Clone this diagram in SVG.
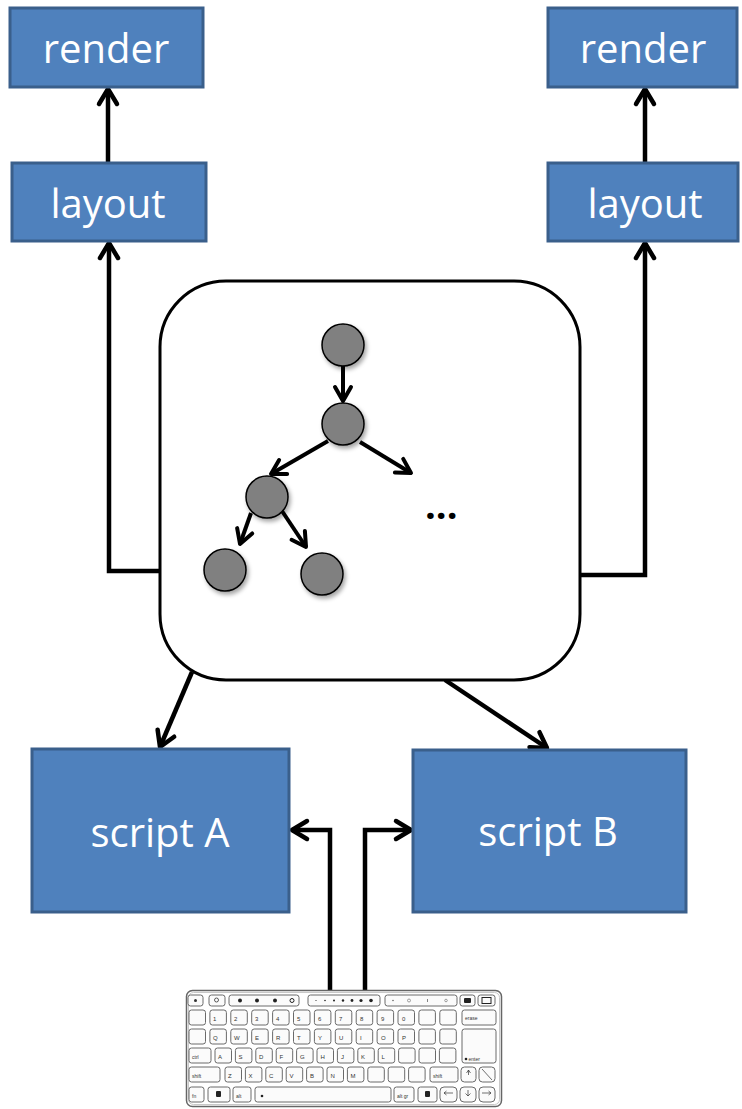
<svg xmlns="http://www.w3.org/2000/svg" width="742" height="1109" viewBox="0 0 742 1109">
  <style>
    .box { fill: #4F81BD; stroke: #3A5F8B; stroke-width: 3; }
    .lbl { font-family: "Open Sans", "Liberation Sans", sans-serif; font-size: 40px; fill: #ffffff; text-anchor: middle; }
    .wire { fill: none; stroke: #000; stroke-width: 4.5; stroke-linejoin: miter; }
    .twire { fill: none; stroke: #000; stroke-width: 4; }
    .tnode { fill: #808080; stroke: #000; stroke-width: 1.5; }
    .k { fill: #fbfbfb; stroke: #6a6a6a; stroke-width: 1; }
    .kt { font-family: "Liberation Sans", "DejaVu Sans", sans-serif; font-size: 6px; fill: #333; }
    .ks { font-family: "Liberation Sans", "DejaVu Sans", sans-serif; font-size: 5px; fill: #333; }
  </style>
  <defs>
    <marker id="chev" markerUnits="userSpaceOnUse" orient="auto" refX="0" refY="0" markerWidth="40" markerHeight="40" viewBox="-20 -20 40 40" overflow="visible">
      <path d="M -15,-9 L 0,0 L -15,9" fill="none" stroke="#000" stroke-width="4.5" stroke-linecap="round" stroke-linejoin="round"/>
    </marker>
    <marker id="chevs" markerUnits="userSpaceOnUse" orient="auto" refX="0" refY="0" markerWidth="40" markerHeight="40" viewBox="-20 -20 40 40" overflow="visible">
      <path d="M -14,-8 L 0,0 L -14,8" fill="none" stroke="#000" stroke-width="4" stroke-linecap="round" stroke-linejoin="round"/>
    </marker>
    <filter id="shadow" x="-40%" y="-40%" width="180%" height="180%">
      <feDropShadow dx="2" dy="3" stdDeviation="2" flood-color="#000" flood-opacity="0.35"/>
    </filter>
  </defs>

  <!-- connectors -->
  <g id="connectors">
    <path class="wire" d="M108,162 V89" marker-end="url(#chev)"/>
    <path class="wire" d="M645,162 V89" marker-end="url(#chev)"/>
    <path class="wire" d="M160,571 H109 V243" marker-end="url(#chev)"/>
    <path class="wire" d="M580,575 H645 V243" marker-end="url(#chev)"/>
    <path class="wire" d="M192,672 L160,747" marker-end="url(#chev)"/>
    <path class="wire" d="M445,680 L547,748" marker-end="url(#chev)"/>
    <path class="wire" d="M330,990 V830 H292" marker-end="url(#chev)"/>
    <path class="wire" d="M365,990 V830 H411" marker-end="url(#chev)"/>
  </g>

  <!-- output stages -->
  <g id="render-left">
    <rect class="box" x="10" y="8" width="193" height="79"/>
    <text class="lbl" x="106" y="63">render</text>
  </g>
  <g id="layout-left">
    <rect class="box" x="12" y="163" width="194" height="78"/>
    <text class="lbl" x="108" y="218">layout</text>
  </g>
  <g id="render-right">
    <rect class="box" x="548" y="8" width="189" height="79"/>
    <text class="lbl" x="643" y="63">render</text>
  </g>
  <g id="layout-right">
    <rect class="box" x="548" y="163" width="190" height="78"/>
    <text class="lbl" x="645" y="218">layout</text>
  </g>

  <!-- document tree container -->
  <g id="dom">
    <rect x="160" y="281" width="420" height="399" rx="66" ry="66" fill="#fff" stroke="#000" stroke-width="3"/>
    <g id="tree-edges">
      <path class="twire" d="M343,366 V401" marker-end="url(#chevs)"/>
      <path class="twire" d="M328,441 L271,474" marker-end="url(#chevs)"/>
      <path class="twire" d="M360,442 L411,473" marker-end="url(#chevs)"/>
      <path class="twire" d="M251,513 L240,544" marker-end="url(#chevs)"/>
      <path class="twire" d="M282,511 L306,547" marker-end="url(#chevs)"/>
    </g>
    <g id="tree-nodes" filter="url(#shadow)">
      <circle class="tnode" cx="343" cy="345" r="21"/>
      <circle class="tnode" cx="343" cy="424" r="21"/>
      <circle class="tnode" cx="267" cy="497" r="21"/>
      <circle class="tnode" cx="225" cy="570" r="21"/>
      <circle class="tnode" cx="322" cy="574" r="21"/>
    </g>
    <text x="425" y="519" font-family="Open Sans, Liberation Sans, sans-serif" font-size="38" font-weight="bold" fill="#000">...</text>
  </g>

  <!-- scripts -->
  <g id="script-a">
    <rect class="box" x="32" y="749" width="257" height="163"/>
    <text class="lbl" x="160" y="847">script A</text>
  </g>
  <g id="script-b">
    <rect class="box" x="413" y="750" width="273" height="162"/>
    <text class="lbl" x="548" y="846">script B</text>
  </g>

  <!-- keyboard -->
  <g id="keyboard">
    <rect x="186.5" y="990.5" width="315" height="116" rx="6" fill="#fff" stroke="#666" stroke-width="1.5"/>
    <rect x="188.5" y="992.5" width="311" height="112" rx="5" fill="none" stroke="#c8c8c8" stroke-width="1"/>

    <!-- top function row -->
    <rect class="k" x="188" y="995" width="15" height="11" rx="2.5"/>
    <circle cx="195.5" cy="1000.5" r="1.5" fill="#333"/>
    <rect class="k" x="209" y="995" width="16" height="11" rx="2.5"/>
    <circle cx="216.5" cy="1000" r="2" fill="none" stroke="#333" stroke-width="0.8"/>
    <rect class="k" x="229" y="995" width="70" height="11" rx="2.5"/>
    <circle cx="240" cy="1000.5" r="2" fill="#222"/>
    <circle cx="257" cy="1000.5" r="2" fill="#222"/>
    <circle cx="275" cy="1000.5" r="2" fill="#222"/>
    <circle cx="292" cy="1000.5" r="2" fill="none" stroke="#222" stroke-width="1"/>
    <rect class="k" x="308" y="995" width="72" height="11" rx="2.5"/>
    <circle cx="316" cy="1000.5" r="0.6" fill="#222"/>
    <circle cx="325" cy="1000.5" r="0.8" fill="#222"/>
    <circle cx="334" cy="1000.5" r="1" fill="#222"/>
    <circle cx="343" cy="1000.5" r="1.2" fill="#222"/>
    <circle cx="352" cy="1000.5" r="1.4" fill="#222"/>
    <circle cx="361" cy="1000.5" r="1.6" fill="#222"/>
    <circle cx="371" cy="1000.5" r="1.8" fill="#222"/>
    <rect class="k" x="385" y="995" width="72" height="11" rx="2.5"/>
    <circle cx="393" cy="1000.5" r="0.8" fill="#666"/>
    <circle cx="409" cy="1000.5" r="1.5" fill="none" stroke="#666" stroke-width="0.6"/>
    <rect x="427" y="999" width="0.8" height="3" fill="#666"/>
    <circle cx="446" cy="1000.5" r="1.3" fill="none" stroke="#666" stroke-width="0.6"/>
    <rect class="k" x="460" y="995" width="15" height="11" rx="2.5"/>
    <rect x="464" y="998" width="7" height="5" rx="1" fill="#222"/>
    <rect class="k" x="478" y="995" width="17" height="11" rx="2.5"/>
    <rect x="482" y="997.5" width="9" height="6" fill="none" stroke="#222" stroke-width="1"/>

    <!-- number row -->
    <rect class="k" x="189" y="1010" width="16.5" height="15" rx="2.5"/>
    <rect class="k" x="209.9" y="1010" width="16.5" height="15" rx="2.5"/>
    <rect class="k" x="230.8" y="1010" width="16.5" height="15" rx="2.5"/>
    <rect class="k" x="251.7" y="1010" width="16.5" height="15" rx="2.5"/>
    <rect class="k" x="272.6" y="1010" width="16.5" height="15" rx="2.5"/>
    <rect class="k" x="293.5" y="1010" width="16.5" height="15" rx="2.5"/>
    <rect class="k" x="314.4" y="1010" width="16.5" height="15" rx="2.5"/>
    <rect class="k" x="335.3" y="1010" width="16.5" height="15" rx="2.5"/>
    <rect class="k" x="356.2" y="1010" width="16.5" height="15" rx="2.5"/>
    <rect class="k" x="377.1" y="1010" width="16.5" height="15" rx="2.5"/>
    <rect class="k" x="398" y="1010" width="16.5" height="15" rx="2.5"/>
    <rect class="k" x="418.9" y="1010" width="16.5" height="15" rx="2.5"/>
    <rect class="k" x="439.8" y="1010" width="16.5" height="15" rx="2.5"/>
    <rect class="k" x="462" y="1010" width="34" height="15" rx="2.5"/>
    <text class="kt" x="213" y="1021">1</text>
    <text class="kt" x="234" y="1021">2</text>
    <text class="kt" x="255" y="1021">3</text>
    <text class="kt" x="276" y="1021">4</text>
    <text class="kt" x="297" y="1021">5</text>
    <text class="kt" x="318" y="1021">6</text>
    <text class="kt" x="339" y="1021">7</text>
    <text class="kt" x="360" y="1021">8</text>
    <text class="kt" x="381" y="1021">9</text>
    <text class="kt" x="402" y="1021">0</text>
    <text class="ks" x="465" y="1020">erase</text>

    <!-- top letter row -->
    <rect class="k" x="189" y="1029" width="16.5" height="15" rx="2.5"/>
    <rect class="k" x="209.9" y="1029" width="16.5" height="15" rx="2.5"/>
    <rect class="k" x="230.8" y="1029" width="16.5" height="15" rx="2.5"/>
    <rect class="k" x="251.7" y="1029" width="16.5" height="15" rx="2.5"/>
    <rect class="k" x="272.6" y="1029" width="16.5" height="15" rx="2.5"/>
    <rect class="k" x="293.5" y="1029" width="16.5" height="15" rx="2.5"/>
    <rect class="k" x="314.4" y="1029" width="16.5" height="15" rx="2.5"/>
    <rect class="k" x="335.3" y="1029" width="16.5" height="15" rx="2.5"/>
    <rect class="k" x="356.2" y="1029" width="16.5" height="15" rx="2.5"/>
    <rect class="k" x="377.1" y="1029" width="16.5" height="15" rx="2.5"/>
    <rect class="k" x="398" y="1029" width="16.5" height="15" rx="2.5"/>
    <rect class="k" x="418.9" y="1029" width="16.5" height="15" rx="2.5"/>
    <rect class="k" x="439.8" y="1029" width="16.5" height="15" rx="2.5"/>
    <rect class="k" x="462" y="1029" width="34" height="34" rx="2.5"/>
    <text class="kt" x="213" y="1040">Q</text>
    <text class="kt" x="234" y="1040">W</text>
    <text class="kt" x="255" y="1040">E</text>
    <text class="kt" x="276" y="1040">R</text>
    <text class="kt" x="297" y="1040">T</text>
    <text class="kt" x="318" y="1040">Y</text>
    <text class="kt" x="339" y="1040">U</text>
    <text class="kt" x="360" y="1040">I</text>
    <text class="kt" x="381" y="1040">O</text>
    <text class="kt" x="402" y="1040">P</text>
    <circle cx="466" cy="1059" r="1.3" fill="#222"/>
    <text class="ks" x="468.5" y="1061">enter</text>

    <!-- home row -->
    <rect class="k" x="189" y="1048" width="22" height="15" rx="2.5"/>
    <rect class="k" x="215" y="1048" width="16.5" height="15" rx="2.5"/>
    <rect class="k" x="235.4" y="1048" width="16.5" height="15" rx="2.5"/>
    <rect class="k" x="255.8" y="1048" width="16.5" height="15" rx="2.5"/>
    <rect class="k" x="276.2" y="1048" width="16.5" height="15" rx="2.5"/>
    <rect class="k" x="296.6" y="1048" width="16.5" height="15" rx="2.5"/>
    <rect class="k" x="317" y="1048" width="16.5" height="15" rx="2.5"/>
    <rect class="k" x="337.4" y="1048" width="16.5" height="15" rx="2.5"/>
    <rect class="k" x="357.8" y="1048" width="16.5" height="15" rx="2.5"/>
    <rect class="k" x="378.2" y="1048" width="16.5" height="15" rx="2.5"/>
    <rect class="k" x="398.6" y="1048" width="16.5" height="15" rx="2.5"/>
    <rect class="k" x="419" y="1048" width="16.5" height="15" rx="2.5"/>
    <rect class="k" x="439.4" y="1048" width="16.5" height="15" rx="2.5"/>
    <text class="ks" x="192" y="1059">ctrl</text>
    <text class="kt" x="218" y="1059">A</text>
    <text class="kt" x="238.5" y="1059">S</text>
    <text class="kt" x="259" y="1059">D</text>
    <text class="kt" x="279.5" y="1059">F</text>
    <text class="kt" x="300" y="1059">G</text>
    <text class="kt" x="320.5" y="1059">H</text>
    <text class="kt" x="341" y="1059">J</text>
    <text class="kt" x="361" y="1059">K</text>
    <text class="kt" x="381.5" y="1059">L</text>

    <!-- bottom letter row -->
    <rect class="k" x="189" y="1067" width="31" height="15" rx="2.5"/>
    <rect class="k" x="225" y="1067" width="16.5" height="15" rx="2.5"/>
    <rect class="k" x="245.4" y="1067" width="16.5" height="15" rx="2.5"/>
    <rect class="k" x="265.8" y="1067" width="16.5" height="15" rx="2.5"/>
    <rect class="k" x="286.2" y="1067" width="16.5" height="15" rx="2.5"/>
    <rect class="k" x="306.6" y="1067" width="16.5" height="15" rx="2.5"/>
    <rect class="k" x="327" y="1067" width="16.5" height="15" rx="2.5"/>
    <rect class="k" x="347.4" y="1067" width="16.5" height="15" rx="2.5"/>
    <rect class="k" x="367.8" y="1067" width="16.5" height="15" rx="2.5"/>
    <rect class="k" x="388.2" y="1067" width="16.5" height="15" rx="2.5"/>
    <rect class="k" x="408.6" y="1067" width="16.5" height="15" rx="2.5"/>
    <rect class="k" x="430" y="1067" width="28" height="15" rx="2.5"/>
    <rect class="k" x="461" y="1067" width="15" height="15" rx="3.5"/>
    <rect class="k" x="479" y="1067" width="16" height="15" rx="3.5"/>
    <text class="ks" x="192" y="1078">shift</text>
    <text class="kt" x="228" y="1078">Z</text>
    <text class="kt" x="248.5" y="1078">X</text>
    <text class="kt" x="269" y="1078">C</text>
    <text class="kt" x="289.5" y="1078">V</text>
    <text class="kt" x="310" y="1078">B</text>
    <text class="kt" x="330.5" y="1078">N</text>
    <text class="kt" x="350.5" y="1078">M</text>
    <text class="ks" x="433" y="1078">shift</text>
    <path d="M468.5,1070 L466.5,1073 M468.5,1070 L470.5,1073 M468.5,1070 V1075" stroke="#333" stroke-width="0.7" fill="none"/>
    <path d="M482,1069 L492,1080" stroke="#333" stroke-width="0.7"/>

    <!-- space bar row -->
    <rect class="k" x="189" y="1087" width="15" height="15" rx="2.5"/>
    <rect class="k" x="208" y="1087" width="22" height="15" rx="2.5"/>
    <rect class="k" x="233" y="1087" width="18" height="15" rx="2.5"/>
    <rect class="k" x="255" y="1087" width="136" height="15" rx="2.5"/>
    <rect class="k" x="394" y="1087" width="20" height="15" rx="2.5"/>
    <rect class="k" x="418" y="1087" width="19" height="15" rx="2.5"/>
    <rect class="k" x="440" y="1087" width="17" height="15" rx="4"/>
    <rect class="k" x="460" y="1087" width="16" height="15" rx="4"/>
    <rect class="k" x="479" y="1087" width="16" height="15" rx="4"/>
    <text class="ks" x="192" y="1098">fn</text>
    <rect x="216" y="1091" width="5" height="6" rx="1" fill="#222"/>
    <text class="ks" x="236" y="1098">alt</text>
    <circle cx="262" cy="1096" r="1.3" fill="#222"/>
    <text class="ks" x="397" y="1098">alt gr</text>
    <rect x="425" y="1091" width="5" height="6" rx="1" fill="#222"/>
    <path d="M444,1093 H453 M444,1093 L446.5,1091 M444,1093 L446.5,1095" stroke="#333" stroke-width="0.7" fill="none"/>
    <path d="M468,1090 V1096 M465.5,1093.5 L468,1096 L470.5,1093.5" stroke="#333" stroke-width="0.7" fill="none"/>
    <path d="M482,1093 H491 M491,1093 L488.5,1091 M491,1093 L488.5,1095" stroke="#333" stroke-width="0.7" fill="none"/>
  </g>
</svg>
